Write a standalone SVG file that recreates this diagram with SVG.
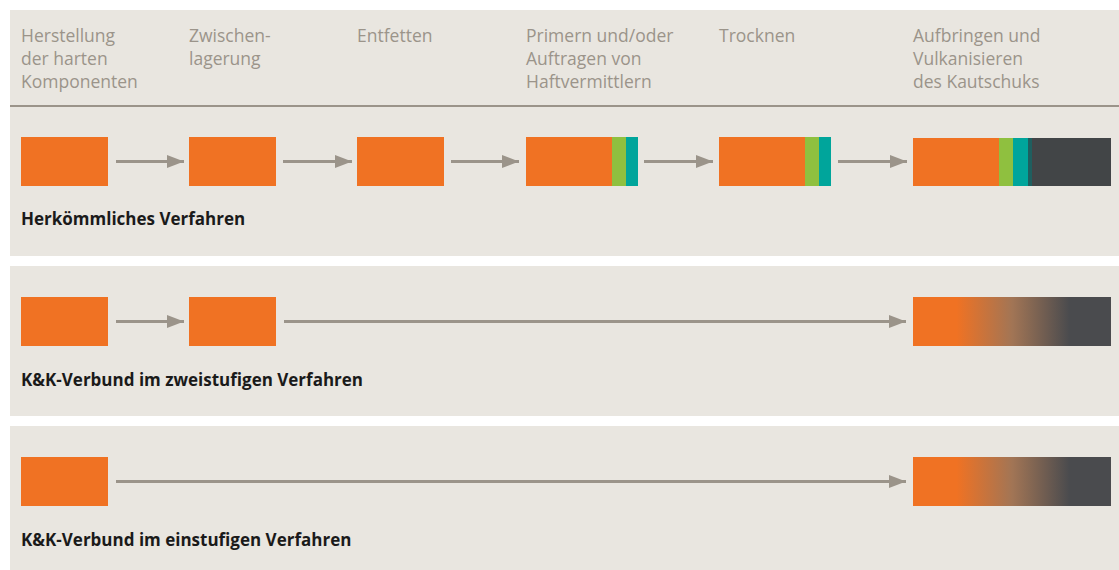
<svg xmlns="http://www.w3.org/2000/svg" width="1119" height="570" viewBox="0 0 1119 570">
<style>
.panel{fill:#e9e6e0}
.hdr{font-family:"Open Sans",sans-serif;font-size:17.5px;fill:#9b948a}
.lbl{font-family:"Open Sans",sans-serif;font-size:17px;font-weight:700;fill:#1a1a1a}
.or{fill:#f07223}
.gr{fill:#8fc03f}
.tl{fill:#00a59b}
.dk{fill:#424547}
.conn line{stroke:#9b948a;stroke-width:3}
</style>
<defs>
<marker id="ah" markerWidth="17" markerHeight="13" refX="17" refY="6.5" orient="auto" markerUnits="userSpaceOnUse">
<path d="M0,0 L17,6.5 L0,13 Z" fill="#9b948a"/>
</marker>
<linearGradient id="g1" x1="0" y1="0" x2="1" y2="0">
<stop offset="0.22" stop-color="#f07223"/>
<stop offset="0.5" stop-color="#a27555"/>
<stop offset="0.79" stop-color="#4a4b4e"/>
</linearGradient>
</defs>
<rect width="1119" height="570" fill="#ffffff"/>
<rect class="panel" x="10" y="10" width="1109" height="246"/>
<rect class="panel" x="10" y="266" width="1109" height="150"/>
<rect class="panel" x="10" y="426" width="1109" height="144"/>
<line x1="10" y1="106" x2="1119" y2="106" stroke="#9b948a" stroke-width="2"/>
<g id="header">
<text class="hdr" x="21" y="42">Herstellung</text>
<text class="hdr" x="21" y="65">der harten</text>
<text class="hdr" x="21" y="88">Komponenten</text>
<text class="hdr" x="189" y="42">Zwischen-</text>
<text class="hdr" x="189" y="65">lagerung</text>
<text class="hdr" x="357" y="42">Entfetten</text>
<text class="hdr" x="526" y="42">Primern und/oder</text>
<text class="hdr" x="526" y="65">Auftragen von</text>
<text class="hdr" x="526" y="88">Haftvermittlern</text>
<text class="hdr" x="719" y="42">Trocknen</text>
<text class="hdr" x="913" y="42">Aufbringen und</text>
<text class="hdr" x="913" y="65">Vulkanisieren</text>
<text class="hdr" x="913" y="88">des Kautschuks</text>
</g>
<g id="r1n1"><rect class="or" x="21" y="137" width="87" height="49"/></g>
<g id="r1n2"><rect class="or" x="189" y="137" width="87" height="49"/></g>
<g id="r1n3"><rect class="or" x="357" y="137" width="87" height="49"/></g>
<g id="r1n4"><rect class="or" x="526" y="137" width="86" height="49"/><rect class="gr" x="612" y="137" width="14" height="49"/><rect class="tl" x="626" y="137" width="12" height="49"/></g>
<g id="r1n5"><rect class="or" x="719" y="137" width="86" height="49"/><rect class="gr" x="805" y="137" width="14" height="49"/><rect class="tl" x="819" y="137" width="12" height="49"/></g>
<g id="r1n6"><rect class="or" x="913" y="138" width="86" height="48"/><rect class="gr" x="999" y="138" width="14" height="48"/><rect class="tl" x="1013" y="138" width="15" height="48"/><rect fill="#1f5f5f" x="1028" y="138" width="5" height="48"/><rect class="dk" x="1032" y="138" width="79" height="48"/></g>
<text class="lbl" x="21" y="225">Herkömmliches Verfahren</text>
<g id="r2n1"><rect class="or" x="21" y="297" width="87" height="49"/></g>
<g id="r2n2"><rect class="or" x="189" y="297" width="87" height="49"/></g>
<g id="r2n3"><rect fill="url(#g1)" x="913" y="297" width="198" height="49"/></g>
<text class="lbl" x="21" y="386">K&amp;K-Verbund im zweistufigen Verfahren</text>
<g id="r3n1"><rect class="or" x="21" y="457" width="87" height="49"/></g>
<g id="r3n2"><rect fill="url(#g1)" x="913" y="457" width="198" height="49"/></g>
<text class="lbl" x="21" y="546">K&amp;K-Verbund im einstufigen Verfahren</text>
<g class="conn" id="connectors">
<line x1="116" y1="161.5" x2="184" y2="161.5" marker-end="url(#ah)"/>
<line x1="283" y1="161.5" x2="352" y2="161.5" marker-end="url(#ah)"/>
<line x1="451" y1="161.5" x2="519" y2="161.5" marker-end="url(#ah)"/>
<line x1="644" y1="161.5" x2="713" y2="161.5" marker-end="url(#ah)"/>
<line x1="838" y1="161.5" x2="907" y2="161.5" marker-end="url(#ah)"/>
<line x1="116" y1="321.5" x2="184" y2="321.5" marker-end="url(#ah)"/>
<line x1="284" y1="321.5" x2="906" y2="321.5" marker-end="url(#ah)"/>
<line x1="116" y1="481.5" x2="906" y2="481.5" marker-end="url(#ah)"/>
</g>
</svg>
